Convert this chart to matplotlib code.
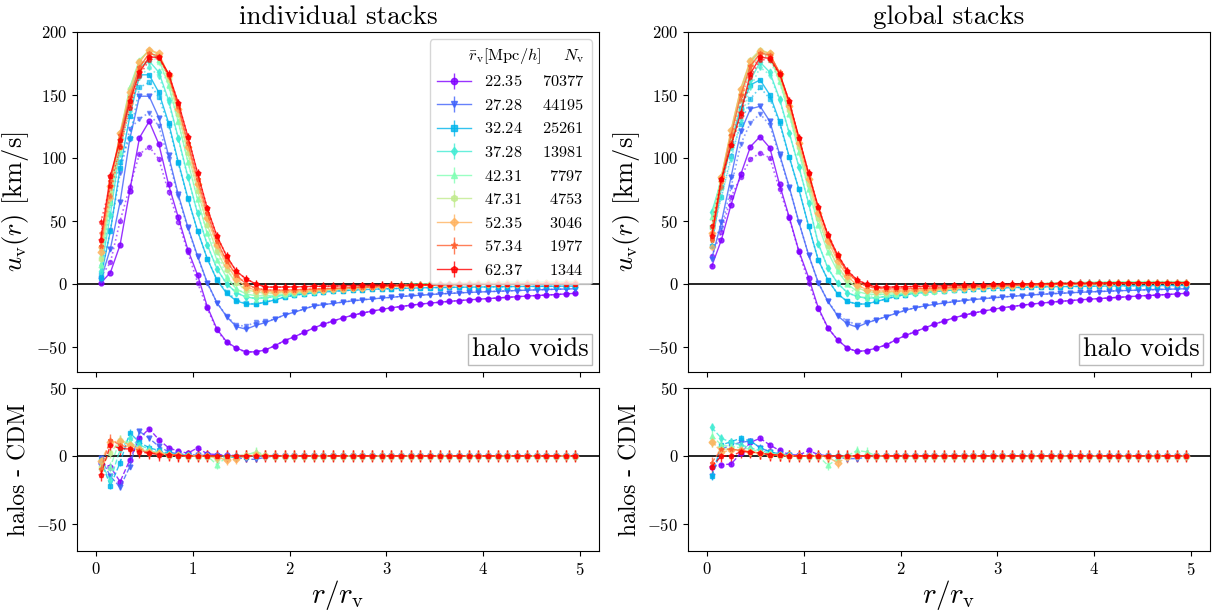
import numpy as np
import matplotlib
matplotlib.use("Agg")
import matplotlib.pyplot as plt
from matplotlib.offsetbox import AnchoredText

plt.rcParams['font.family'] = 'serif'
plt.rcParams['font.serif'] = ['cmr10']
plt.rcParams['mathtext.fontset'] = 'cm'
plt.rcParams['axes.formatter.use_mathtext'] = True

# ---------------- data ----------------
r = np.round(np.arange(0.05, 5.0, 0.1), 2)
rv_labels = ["22.35", "27.28", "32.24", "37.28", "42.31", "47.31", "52.35", "57.34", "62.37"]
nv_labels = ["70377", "44195", "25261", "13981", "7797", "4753", "3046", "1977", "1344"]
markers = ['o', 'v', 's', 'd', '^', 'h', 'D', '*', 'p']

# individual stacks, halo voids (solid)
hL_p = [0.5, 9, 31, 74, 116, 129, 111, 79, 53, 27,
        7, -18, -36, -46, -51, -54, -54, -52.5, -49, -45,
        -42, -38.5, -35, -32, -29.5, -27, -25, -23.2, -21.7, -20.3,
        -19, -18, -17, -16.1, -15.3, -14.6, -13.9, -13.3, -12.7, -12.2,
        -11.7, -11.2, -10.7, -10.2, -9.7, -9.3, -8.9, -8.5, -8.0, -7.5]
hL_b = [3, 28, 65, 115, 149, 149, 132, 102, 71, 45,
        22, 1, -15, -26, -34, -36, -33, -30.7, -27.8, -24.6,
        -22.5, -20, -17.5, -16.5, -15.5, -14.5, -13.5, -12.7, -12, -11.3,
        -10.7, -10, -9.5, -9, -8.5, -8, -7.6, -7.2, -6.8, -6.5,
        -6.2, -5.9, -5.6, -5.3, -5, -4.8, -4.5, -4.3, -4.1, -3.9]
hL_c = [5, 42, 92, 133, 166, 166, 152, 128, 97, 68,
        42, 20, 3, -7.5, -13.5, -16, -16, -14.6, -12.7, -10.5,
        -9, -8, -7.2, -6.5, -5.9, -5.4, -5, -4.6, -4.3, -4,
        -3.8, -3.6, -3.4, -3.2, -3, -2.9, -2.8, -2.7, -2.6, -2.5,
        -2.4, -2.3, -2.2, -2.1, -2, -2, -1.9, -1.9, -1.8, -1.8]
hL_t = [10, 55, 108, 150, 172, 177, 168, 146, 116, 85,
        56, 31, 12, 0, -7, -10.5, -11.5, -11, -10, -9,
        -8, -7, -6.2, -5.5, -4.8, -4.2, -3.6, -3.1, -2.6, -2.2,
        -1.8, -1.5, -1.2, -0.9, -0.7, -0.5, -0.3, -0.1, 0.1, 0.2,
        0.3, 0.4, 0.5, 0.6, 0.7, 0.7, 0.8, 0.8, 0.9, 0.9]
hL_lg = [15, 65, 117, 156, 178, 185, 178, 158, 129, 97,
         67, 40, 19, 5, -4, -8, -9.5, -9.5, -9, -8.3,
         -7.5, -6.7, -5.9, -5.1, -4.4, -3.7, -3.1, -2.5, -2, -1.5,
         -1.1, -0.7, -0.4, -0.1, 0.2, 0.4, 0.6, 0.8, 1, 1.1,
         1.2, 1.3, 1.4, 1.5, 1.5, 1.6, 1.6, 1.7, 1.7, 1.7]
hL_yg = [20, 72, 120, 155, 177, 186, 182, 163, 135, 104,
         74, 47, 26, 11, 1, -4.5, -6.5, -7.3, -7.3, -7,
         -6.5, -6, -5.4, -4.8, -4.2, -3.7, -3.2, -2.7, -2.3, -1.9,
         -1.5, -1.2, -0.9, -0.6, -0.4, -0.2, 0, 0.2, 0.3, 0.4,
         0.5, 0.6, 0.7, 0.8, 0.8, 0.9, 0.9, 1, 1, 1]
hL_o = [25, 78, 120, 152, 176, 186, 183, 166, 139, 109,
        79, 52, 31, 15, 4, -2.5, -5, -6, -6.2, -6,
        -5.7, -5.3, -4.9, -4.5, -4.1, -3.7, -3.3, -2.9, -2.6, -2.3,
        -2, -1.7, -1.4, -1.2, -1, -0.8, -0.6, -0.4, -0.3, -0.2,
        -0.1, 0, 0.1, 0.2, 0.2, 0.3, 0.3, 0.4, 0.4, 0.4]
hL_s = [30, 82, 118, 148, 172, 183, 181, 166, 141, 112,
        83, 56, 34, 18, 7, 0, -3.5, -4.8, -5, -4.9,
        -4.7, -4.4, -4.1, -3.8, -3.5, -3.2, -2.9, -2.6, -2.3, -2,
        -1.8, -1.6, -1.4, -1.2, -1, -0.8, -0.6, -0.5, -0.4, -0.3,
        -0.2, -0.1, 0, 0.1, 0.1, 0.2, 0.2, 0.2, 0.3, 0.3]
hL_r = [35, 86, 114, 145, 168, 180, 180, 167, 144, 117,
        88, 60, 38, 22, 10, 4, 0, -2.5, -2.6, -2.5,
        -2.4, -2.2, -2, -1.9, -1.7, -1.6, -1.4, -1.3, -1.2, -1.1,
        -1, -0.9, -0.8, -0.7, -0.6, -0.5, -0.4, -0.4, -0.3, -0.2,
        -0.2, -0.1, -0.1, 0, 0, 0, 0.1, 0.1, 0.1, 0.1]

# global stacks, halo voids (solid)
hR_p = [14, 35, 63, 87, 109, 117, 108, 79, 53, 26,
        5, -19, -35, -44.5, -51, -53.7, -53, -51, -48.5, -44.5,
        -41, -38, -35, -32, -29.5, -27, -25, -23.2, -21.7, -20.3,
        -19, -18, -17, -16.1, -15.3, -14.6, -13.9, -13.3, -12.7, -12.2,
        -11.7, -11.2, -10.7, -10.2, -9.7, -9.3, -8.9, -8.5, -8, -7.5]
hR_b = [20, 49, 85, 121, 139, 141, 129, 103, 77, 49,
        23, 1, -14, -25.4, -31.7, -34.4, -31, -28.6, -26, -23.5,
        -21, -19, -17.5, -16.3, -15.2, -14.2, -13.3, -12.5, -11.8, -11.1,
        -10.5, -9.9, -9.3, -8.8, -8.3, -7.9, -7.5, -7.1, -6.7, -6.4,
        -6.1, -5.8, -5.5, -5.2, -5, -4.7, -4.5, -4.3, -4.1, -3.9]
hR_c = [30, 77, 112, 140, 158, 162, 150, 129, 101, 75,
        46, 19, 3, -8, -14, -16, -16, -14, -12, -10,
        -8.5, -7.5, -6.7, -6, -5.4, -4.9, -4.5, -4.1, -3.8, -3.5,
        -3.2, -3, -2.8, -2.6, -2.4, -2.3, -2.2, -2.1, -2, -1.9,
        -1.8, -1.7, -1.6, -1.5, -1.5, -1.4, -1.4, -1.3, -1.3, -1.2]
hR_t = [57, 82, 109, 138, 162, 176, 168, 147, 120, 93,
        64, 32, 12.4, 0.5, -7, -10, -11.4, -11, -10, -9,
        -8, -7.2, -6.4, -5.7, -5, -4.4, -3.8, -3.3, -2.8, -2.4,
        -2, -1.6, -1.3, -1, -0.7, -0.5, -0.3, -0.1, 0.1, 0.3,
        0.4, 0.5, 0.6, 0.7, 0.8, 0.8, 0.9, 0.9, 1, 1]
hR_lg = [53, 85, 120, 152, 176, 185, 180, 161, 135, 105,
         75, 47, 25, 10, 0, -6, -8, -8.5, -8.3, -8,
         -7.5, -6.8, -6.1, -5.4, -4.7, -4, -3.4, -2.8, -2.2, -1.7,
         -1.2, -0.8, -0.4, -0.1, 0.2, 0.5, 0.7, 0.9, 1.1, 1.3,
         1.4, 1.5, 1.6, 1.7, 1.7, 1.8, 1.8, 1.8, 1.8, 1.8]
hR_yg = [45, 85, 122, 155, 178, 186, 183, 164, 138, 109,
         79, 52, 30, 14, 3, -3, -6, -7, -7, -6.7,
         -6.3, -5.8, -5.3, -4.8, -4.3, -3.8, -3.3, -2.9, -2.5, -2.1,
         -1.7, -1.4, -1.1, -0.8, -0.5, -0.3, -0.1, 0.1, 0.3, 0.4,
         0.5, 0.6, 0.7, 0.8, 0.8, 0.9, 0.9, 1, 1, 1]
hR_o = [40, 85, 122, 155, 177, 185, 183, 167, 141, 112,
        83, 56, 34, 18, 6, -1, -4.5, -5.5, -5.8, -5.7,
        -5.4, -5, -4.6, -4.2, -3.8, -3.4, -3, -2.7, -2.4, -2.1,
        -1.8, -1.5, -1.2, -1, -0.8, -0.6, -0.4, -0.2, -0.1, 0,
        0.1, 0.2, 0.3, 0.3, 0.4, 0.4, 0.5, 0.5, 0.5, 0.5]
hR_s = [35, 82, 118, 150, 173, 183, 182, 168, 144, 116,
        87, 60, 38, 21, 9, 2, -2, -3.5, -4, -4,
        -3.9, -3.7, -3.5, -3.2, -2.9, -2.6, -2.3, -2, -1.8, -1.6,
        -1.4, -1.2, -1, -0.8, -0.6, -0.4, -0.2, -0.1, 0, 0.1,
        0.2, 0.3, 0.4, 0.4, 0.5, 0.5, 0.6, 0.6, 0.6, 0.6]
hR_r = [38, 83, 110, 136, 167, 180, 179, 167, 145, 116,
        88, 61, 39, 23, 10.6, 3.2, -0.3, -2.6, -2.6, -2.5,
        -2.3, -2.1, -1.9, -1.7, -1.5, -1.3, -1.1, -0.9, -0.7, -0.5,
        -0.4, -0.3, -0.1, 0, 0.1, 0.2, 0.3, 0.4, 0.5, 0.6,
        0.7, 0.7, 0.8, 0.8, 0.9, 0.9, 1, 1, 1, 1]

# halos - CDM, individual stacks
dL_p = [-5, -8, -19, -3, 13, 20, 12, 6, 3.5, 2,
        6, 1.5, 1, 0.5, 0.3, 0.2, 0, 0, 0.2, 0,
        0.2, 0, 0, 0, 0, 0.1, 0, 0, 0, 0,
        0, 0, 0, 0, 0, 0, 0, 0, 0, 0,
        0, 0, 0, 0, 0, 0, 0, 0, 0, 0]
dL_b = [-1.5, -15, -23, -8, 18, 13, 7, 3, 1.5, 1,
        0.5, 0.5, 0, -0.5, -1, -2.5, -2.5, -1, 0, 0,
        0, 0, 0, 0, 0, 0, 0, 0, 0, 0,
        0, 0, 0, 0, 0, 0, 0, 0, 0, 0,
        0, 0, 0, 0, 0, 0, 0, 0, 0, 0]
dL_c = [-3, -22, -5, 17, 10, 6, 4, 2, 1, 0.5,
        0, 0, -0.5, -1, -1, -0.5, 0, 0, 0, 0,
        0, 0, 0, 0, 0, 0, 0, 0, 0, 0,
        0, 0, 0, 0, 0, 0, 0, 0, 0, 0,
        0, 0, 0, 0, 0, 0, 0, 0, 0, 0]
dL_t = [-5, -18, 5, 13, 8, 5, 3, 1.5, 1, 0.5,
        0, 0, 0, 0, 0, 0, 0, 0, 0, 0,
        0, 0, 0, 0, 0, 0, 0, 0, 0, 0,
        0, 0, 0, 0, 0, 0, 0, 0, 0, 0,
        0, 0, 0, 0, 0, 0, 0, 0, 0, 0]
dL_lg = [-8, -8, 12, 10, 6, 4, 2, 1, 0.5, 0,
         0, 0, -6.5, -1, -0.5, 0.5, 3, 1, 0, 0,
         0, 0, 0, 0, 0, 0, 0, 0, 0, 0,
         0, 0, 0, 0, 0, 0, 0, 0, 0, 0,
         0, 0, 0, 0, 0, 0, 0, 0, 0, 0]
dL_yg = [-8, 2, 12, 8, 5, 3, 2, 1, 0.5, 0,
         0, 0, -2, -1, 0, 1, 2, 0.5, 0, 0,
         0, 0, 0, 0, 0, 0, 0, 0, 0, 0,
         0, 0, 0, 0, 0, 0, 0, 0, 0, 0,
         0, 0, 0, 0, 0, 0, 0, 0, 0, 0]
dL_o = [-4, 10, 11, 8, 5, 3, 2, 1, 0.5, 0,
        0, 0, -1, -3, -2, 0, 0.5, 0, 0, 0,
        0, 0, 0, 0, 0, 0, 0, 0, 0, 0,
        0, 0, 0, 0, 0, 0, 0, 0, 0, 0,
        0, 0, 0, 0, 0, 0, 0, 0, 0, 0]
dL_s = [-10, 12, 8, 6, 4, 2.5, 1.5, 1, 0.5, 0,
        0, 0, 0, 0, 0, 0, 0, 0, 0, 0,
        0, 0, 0, 0, 0, 0, 0, 0, 0, 0,
        0, 0, 0, 0, 0, 0, 0, 0, 0, 0,
        0, 0, 0, 0, 0, 0, 0, 0, 0, 0]
dL_r = [-14, 8, 5.5, 5, 3, 2, 1, 0.5, 0.3, 0,
        0, 0, 0, 0, 0, 0, 0, 0, 0, 0,
        0, 0, 0, 0, 0, 0, 0, 0, 0, 0,
        0, 0, 0, 0, 0, 0, 0, 0, 0, 0,
        0, 0, 0, 0, 0, 0, 0, 0, 0, 0]

# halos - CDM, global stacks
dR_p = [-8, -6.5, -6, 2, 10, 13, 8, 4, 1, 0.5,
        4, 1, 0, 0, 0, 0, 0, 0, 0, 0,
        0, 0, 0, 0, 0, 0, 0, 0, 0, 0,
        0, 0, 0, 0, 0, 0, 0, 0, 0, 0,
        0, 0, 0, 0, 0, 0, 0, 0, 0, 0]
dR_b = [-15, 5, 8, 10, 11, 6, 3, 1.5, 0.5, 0,
        0, 0, 0, -1, -2, -2, -1, 0, 0, 0,
        0, 0, 0, 0, 0, 0, 0, 0, 0, 0,
        0, 0, 0, 0, 0, 0, 0, 0, 0, 0,
        0, 0, 0, 0, 0, 0, 0, 0, 0, 0]
dR_c = [-15, 8, 10.5, 13, 11, 6, 3, 1.5, 0.5, 0,
        0, 0, 0, 0, 0, 0, 0, 0, 0, 0,
        0, 0, 0, 0, 0, 0, 0, 0, 0, 0,
        0, 0, 0, 0, 0, 0, 0, 0, 0, 0,
        0, 0, 0, 0, 0, 0, 0, 0, 0, 0]
dR_t = [21, 13, 10, 8, 6, 4, 2, 1, 0.5, 0,
        0, 0, 0, 0, 0, 0, 0, 0, 0, 0,
        0, 0, 0, 0, 0, 0, 0, 0, 0, 0,
        0, 0, 0, 0, 0, 0, 0, 0, 0, 0,
        0, 0, 0, 0, 0, 0, 0, 0, 0, 0]
dR_lg = [15, 8, 7, 6, 5, 3, 2, 1, 0.5, 0,
         0, 0, -7, -2, 0, 4, 3, 0, 0, 0,
         0, 0, 0, 0, 0, 0, 0, 0, 0, 0,
         0, 0, 0, 0, 0, 0, 0, 0, 0, 0,
         0, 0, 0, 0, 0, 0, 0, 0, 0, 0]
dR_yg = [10, 5, 5, 4, 3, 2, 1, 0.5, 0, 0,
         0, 0, 0, 0, 0, 0, 0, 0, 0, 0,
         0, 0, 0, 0, 0, 0, 0, 0, 0, 0,
         0, 0, 0, 0, 0, 0, 0, 0, 0, 0,
         0, 0, 0, 0, 0, 0, 0, 0, 0, 0]
dR_o = [10.6, 3, 4, 4, 3, 2, 1, 0.5, 0, 0,
        0, 0, -1, -5, -1, 0, 0, 0, 0, 0,
        0, 0, 0, 0, 0, 0, 0, 0, 0, 0,
        0, 0, 0, 0, 0, 0, 0, 0, 0, 0,
        0, 0, 0, 0, 0, 0, 0, 0, 0, 0]
dR_s = [-5, 5, 5, 4, 3, 2, 1, 0.5, 0, 0,
        0, 0, 0, 0, 0, 0, 0, 0, 0, 0,
        0, 0, 0, 0, 0, 0, 0, 0, 0, 0,
        0, 0, 0, 0, 0, 0, 0, 0, 0, 0,
        0, 0, 0, 0, 0, 0, 0, 0, 0, 0]
dR_r = [-8, 0, 0, 3, 3, 2, 1, 0.5, 0, 0,
        0, 0, 0, 0, 0, 0, 0, 0, 0, 0,
        0, 0, 0, 0, 0, 0, 0, 0, 0, 0,
        0, 0, 0, 0, 0, 0, 0, 0, 0, 0,
        0, 0, 0, 0, 0, 0, 0, 0, 0, 0]

err_top = [0.6, 0.8, 1.0, 1.3, 1.6, 1.9, 2.2, 2.6, 3.0]
err_bot = [1.5, 2.0, 2.5, 3.0, 3.5, 3.5, 4.0, 4.0, 4.5]

halos_L = [hL_p, hL_b, hL_c, hL_t, hL_lg, hL_yg, hL_o, hL_s, hL_r]
halos_R = [hR_p, hR_b, hR_c, hR_t, hR_lg, hR_yg, hR_o, hR_s, hR_r]
diff_L = [dL_p, dL_b, dL_c, dL_t, dL_lg, dL_yg, dL_o, dL_s, dL_r]
diff_R = [dR_p, dR_b, dR_c, dR_t, dR_lg, dR_yg, dR_o, dR_s, dR_r]

# ---------------- figure ----------------
W, H = 1219, 610
fig = plt.figure(figsize=(W / 100, H / 100), dpi=100)

def px_axes(x0, x1, y0, y1):
    return fig.add_axes([x0 / W, 1 - y1 / H, (x1 - x0) / W, (y1 - y0) / H])

axTL = px_axes(77, 599, 32, 372)
axBL = px_axes(77, 599, 388, 551)
axTR = px_axes(688, 1210, 32, 372)
axBR = px_axes(688, 1210, 388, 551)

colors = plt.cm.rainbow(np.linspace(0, 1, 9))

def draw(axT, axB, halos, diffs, title):
    handles = []
    for i in range(9):
        h = np.array(halos[i], dtype=float)
        d = np.array(diffs[i], dtype=float)
        cdm = h - d
        c = colors[i]
        cont = axT.errorbar(r, h, yerr=err_top[i], color=c, marker=markers[i], ms=3.5,
                            lw=1.0, elinewidth=1.0, alpha=0.8, ls='-')
        axT.errorbar(r, cdm, yerr=err_top[i], color=c, marker=markers[i], ms=3,
                     lw=1.2, elinewidth=0.8, alpha=0.6, ls=':')
        axB.errorbar(r, d, yerr=err_bot[i], color=c, marker=markers[i], ms=3.5,
                     lw=1.0, elinewidth=1.0, alpha=0.8, ls='--')
        handles.append(cont)
    for ax in (axT, axB):
        ax.axhline(0, color='k', lw=1.2, zorder=1)
        ax.tick_params(labelsize=12)
    axT.set_ylim(-70, 200)
    axB.set_ylim(-70, 50)
    axT.set_yticks([-50, 0, 50, 100, 150, 200])
    axB.set_yticks([-50, 0, 50])
    axB.set_xticks([0, 1, 2, 3, 4, 5])
    axT.set_xticks([0, 1, 2, 3, 4, 5])
    axT.set_xlim(axB.get_xlim())
    axT.tick_params(labelbottom=False)
    axT.set_title(title, fontsize=19.5)
    axT.set_ylabel(r"$u_{\rm v}(r)$ [km/s]", fontsize=19)
    axB.set_ylabel("halos - CDM", fontsize=17)
    axB.set_xlabel(r"$r/r_{\rm v}$", fontsize=21, labelpad=0)
    at = AnchoredText("halo voids", loc='lower right', prop=dict(size=19),
                      frameon=True, pad=0.15, borderpad=0.25)
    at.patch.set_edgecolor('#bbbbbb')
    at.patch.set_boxstyle('square', pad=0)
    axT.add_artist(at)
    return handles

hdl = draw(axTL, axBL, halos_L, diff_L, "individual stacks")
draw(axTR, axBR, halos_R, diff_R, "global stacks")

labels = []
for rv, nv in zip(rv_labels, nv_labels):
    pad = r"\enspace" * (5 - len(nv))
    labels.append(r"$%s\quad\;\,%s%s$" % (rv, pad, nv))
axTL.legend(hdl, labels, loc='upper right', fontsize=11.8,
            title=r"$\bar{r}_{\rm v}[{\rm Mpc}/h]\quad\;\;N_{\rm v}$",
            title_fontsize=11.8, alignment='right', handlelength=2.1,
            handletextpad=0.8, labelspacing=0.52, borderaxespad=0.45,
            markerscale=1.3)

fig.align_ylabels([axTL, axBL])
fig.align_ylabels([axTR, axBR])
fig.savefig("out.png", dpi=100)
